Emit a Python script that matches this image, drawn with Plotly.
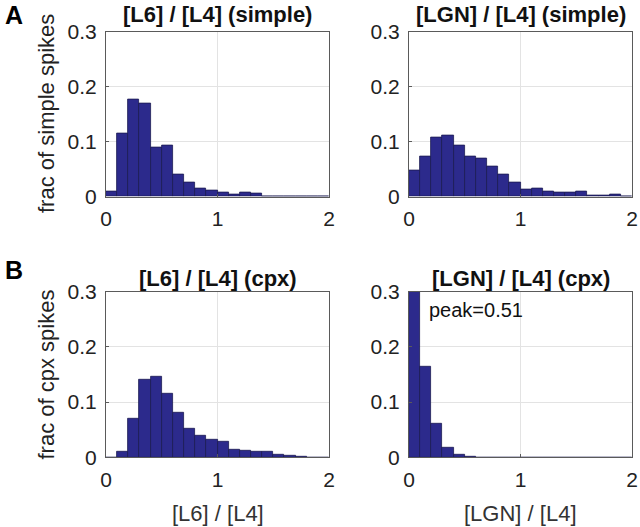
import plotly.graph_objects as go

bin_edges_left = [round(0.1 * i, 1) for i in range(20)]
bin_width = 0.1

l6_simple = [0.010, 0.114, 0.176, 0.169, 0.090, 0.093, 0.040, 0.025, 0.015, 0.011,
             0.007, 0.0045, 0.007, 0.005, 0.0, 0.0, 0.0, 0.0, 0.0, 0.0]
lgn_simple = [0.047, 0.072, 0.108, 0.111, 0.092, 0.072, 0.069, 0.054, 0.040, 0.025,
              0.013, 0.014, 0.010, 0.007, 0.008, 0.009, 0.001, 0.001, 0.004, 0.0]
l6_cpx = [0.0, 0.011, 0.070, 0.140, 0.146, 0.115, 0.081, 0.052, 0.040, 0.031,
          0.028, 0.013, 0.012, 0.011, 0.010, 0.005, 0.003, 0.001, 0.0, 0.0]
lgn_cpx = [0.51, 0.165, 0.060, 0.018, 0.004, 0.002, 0.0, 0.0, 0.0, 0.0,
           0.0, 0.0, 0.0, 0.0, 0.0, 0.0, 0.0, 0.0, 0.0, 0.0]

titles = ["[L6] / [L4] (simple)", "[LGN] / [L4] (simple)",
          "[L6] / [L4] (cpx)", "[LGN] / [L4] (cpx)"]
ylabels = ["frac of simple spikes", "frac of cpx spikes"]
xlabels = ["[L6] / [L4]", "[LGN] / [L4]"]
x_ticks = [0, 1, 2]
y_ticks = [0, 0.1, 0.2, 0.3]
peak_label = "peak=0.51"

W, H = 640, 527
xdom = [[106 / W, 329 / W], [409 / W, 632 / W]]
ydom = [[(H - 196.5) / H, (H - 31.5) / H], [(H - 457.3) / H, (H - 291.7) / H]]

FONT = "Liberation Sans, Arial, Helvetica, sans-serif"
bar_color = "rgb(44,42,140)"
edge_color = "rgb(28,26,80)"

fig = go.Figure()
series = [l6_simple, lgn_simple, l6_cpx, lgn_cpx]
layout_axes = {}
for i, vals in enumerate(series):
    r, c = divmod(i, 2)
    n = i + 1
    xa = "x" if n == 1 else f"x{n}"
    ya = "y" if n == 1 else f"y{n}"
    fig.add_trace(go.Bar(
        x=bin_edges_left, y=vals, width=bin_width, offset=0,
        marker=dict(color=bar_color, line=dict(color=edge_color, width=0.8)),
        xaxis=xa, yaxis=ya, showlegend=False, hoverinfo="skip"))
    axstyle = dict(showline=True, linecolor="#5a5a5a", linewidth=1, mirror=True,
                   showgrid=True, gridcolor="#e3e3e3", gridwidth=1, zeroline=False,
                   ticks="inside", ticklen=3, tickcolor="#5a5a5a", automargin=False,
                   tickfont=dict(family=FONT, size=21, color="#222"))
    layout_axes[f"xaxis{'' if n == 1 else n}"] = dict(
        axstyle, domain=xdom[c], range=[0, 2], tickvals=x_ticks,
        anchor=ya, ticklabelstandoff=3)
    layout_axes[f"yaxis{'' if n == 1 else n}"] = dict(
        axstyle, domain=ydom[r], range=[0, 0.3], tickvals=y_ticks,
        ticktext=["0", "0.1", "0.2", "0.3"], anchor=xa, ticklabelstandoff=4)

fig.update_layout(**layout_axes)

ann = []
for i, t in enumerate(titles):
    r, c = divmod(i, 2)
    cx = (xdom[c][0] + xdom[c][1]) / 2
    ty = [15, 278][r]
    ann.append(dict(text=f"<b>{t}</b>", x=cx, y=1 - ty / H, xref="paper", yref="paper",
                    xanchor="center", yanchor="middle", showarrow=False,
                    font=dict(family=FONT, size=22, color="#111")))
for r, lab in enumerate(ylabels):
    cy = (ydom[r][0] + ydom[r][1]) / 2
    ann.append(dict(text=lab, x=46 / W, y=cy, xref="paper", yref="paper",
                    xanchor="center", yanchor="middle", showarrow=False, textangle=-90,
                    font=dict(family=FONT, size=22, color="#222")))
for c, lab in enumerate(xlabels):
    cx = (xdom[c][0] + xdom[c][1]) / 2
    ann.append(dict(text=lab, x=cx, y=1 - 513 / H, xref="paper", yref="paper",
                    xanchor="center", yanchor="middle", showarrow=False,
                    font=dict(family=FONT, size=22, color="#333")))
for lab, yy in [("A", 15), ("B", 270)]:
    ann.append(dict(text=f"<b>{lab}</b>", x=14 / W, y=1 - yy / H, xref="paper", yref="paper",
                    xanchor="center", yanchor="middle", showarrow=False,
                    font=dict(family=FONT, size=25, color="#000")))
ann.append(dict(text=peak_label, x=0.16, y=0.266, xref="x4", yref="y4",
                xanchor="left", yanchor="middle", showarrow=False,
                font=dict(family=FONT, size=20, color="#111")))

fig.update_layout(width=W, height=H, margin=dict(l=0, r=0, t=0, b=0),
                  paper_bgcolor="white", plot_bgcolor="white",
                  bargap=0, annotations=ann)

fig.write_html("out.html", config={"displayModeBar": False},
               post_script="document.body.style.margin='0px';document.body.style.overflow='hidden';")
